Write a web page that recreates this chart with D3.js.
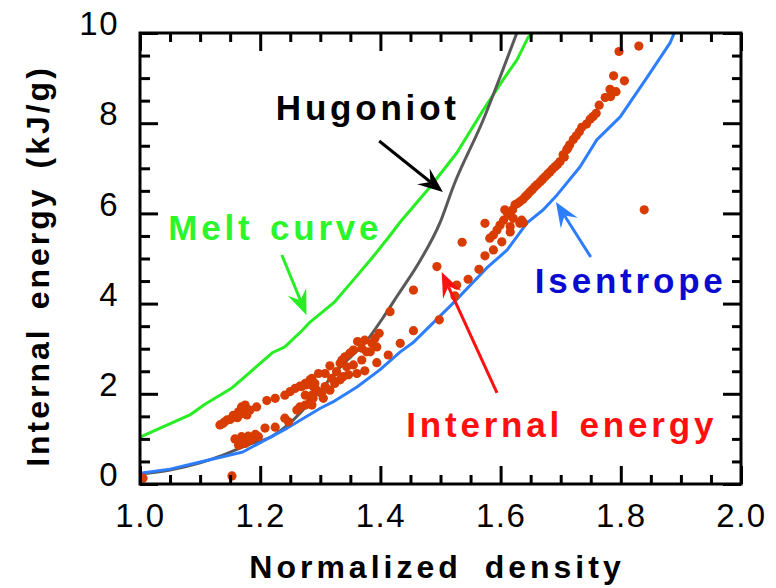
<!DOCTYPE html>
<html><head><meta charset="utf-8">
<script src="https://cdn.jsdelivr.net/npm/d3@7"></script>
<style>body{margin:0;background:#fff} svg{display:block}</style>
</head><body><svg id="c" width="776" height="588"></svg>
<script>
// ---------- data ----------
const xMajorTicks = [1.0, 1.2, 1.4, 1.6, 1.8, 2.0];
const yMajorTicks = [0, 2, 4, 6, 8, 10];

const isentropeDensity = [1.000,1.050,1.095,1.171,1.245,1.300,1.321,1.361,1.399,1.433,1.454,1.521,1.577,1.611,1.644,1.671,1.694,1.732,1.760,1.799,1.844,1.882,1.889];
const isentropeEnergy  = [0.24,0.33,0.47,0.71,1.24,1.68,1.82,2.15,2.53,2.93,3.13,4.01,4.79,5.19,5.79,6.08,6.41,7.03,7.63,8.14,9.02,9.78,10.0];

const hugoniotDensity = [1.000,1.050,1.100,1.138,1.180,1.220,1.246,1.286,1.333,1.378,1.404,1.429,1.466,1.499,1.522,1.571,1.599,1.627];
const hugoniotEnergy  = [0.22,0.31,0.47,0.64,0.87,1.06,1.31,1.86,2.59,3.19,3.68,4.19,4.95,5.79,6.62,8.07,9.02,10.0];

const meltDensity = [1.000,1.042,1.083,1.108,1.153,1.180,1.220,1.241,1.271,1.283,1.324,1.358,1.386,1.413,1.433,1.483,1.527,1.571,1.604,1.627,1.646,1.654];
const meltEnergy  = [1.04,1.29,1.53,1.77,2.13,2.44,2.91,3.04,3.42,3.59,4.04,4.57,5.01,5.46,5.81,6.59,7.34,8.29,8.96,9.40,9.91,10.0];

const internalEnergyPoints = [
 [1.005,0.13],[1.153,0.18],
 [1.133,1.31],[1.141,1.38],[1.150,1.43],[1.158,1.49],[1.164,1.60],[1.169,1.71],[1.175,1.75],[1.178,1.53],[1.183,1.64],[1.194,1.71],[1.211,1.85],[1.225,1.90],[1.241,1.97],[1.250,2.05],[1.258,2.12],[1.266,2.17],[1.275,2.23],[1.283,2.31],
 [1.145,1.42],[1.155,1.52],[1.170,1.56],[1.138,1.34],[1.162,1.47],[1.172,1.65],
 [1.161,0.98],[1.164,0.86],[1.169,1.05],[1.175,0.90],[1.180,1.06],[1.189,1.05],[1.197,1.05],[1.208,1.24],[1.225,1.26],[1.241,1.46],[1.247,1.38],[1.261,1.64],[1.266,1.71],[1.275,1.75],[1.283,1.82],[1.288,2.16],[1.286,1.97],
 [1.170,0.95],[1.185,0.98],[1.158,1.00],[1.192,1.10],[1.166,0.92],[1.178,1.02],
 [1.416,3.82],[1.398,3.34],[1.391,3.23],[1.362,3.16],[1.374,3.19],[1.386,3.12],[1.394,3.04],[1.377,2.93],[1.369,3.01],[1.355,2.97],[1.349,2.90],[1.341,2.82],[1.336,2.75],[1.383,2.93],[1.413,2.86],[1.369,2.75],[1.394,2.69],[1.355,2.64],[1.344,2.60],[1.333,2.68],[1.316,2.62],[1.327,2.49],[1.374,2.51],[1.361,2.45],[1.347,2.42],[1.338,2.38],[1.308,2.45],[1.297,2.45],[1.319,2.34],[1.286,2.34],[1.277,2.20],[1.291,2.23],[1.308,2.16],[1.324,2.23],[1.333,2.31],[1.269,2.16],[1.294,2.08],[1.316,2.08],[1.275,1.97],[1.288,1.90],[1.302,2.01],[1.305,1.90],[1.286,1.75],[1.433,3.12],
 [1.494,4.82],[1.455,4.30],[1.498,3.64],[1.455,3.40],[1.527,4.41],[1.524,4.17],[1.546,4.54],[1.536,5.36],[1.564,4.76],[1.574,5.06],[1.588,5.19],
 [1.699,7.15],[1.691,7.04],[1.682,6.92],[1.674,6.81],[1.666,6.70],[1.657,6.59],[1.649,6.48],[1.641,6.37],[1.632,6.26],[1.624,6.19],[1.620,6.08],[1.607,6.08],[1.613,5.96],[1.605,5.85],[1.621,5.89],[1.632,5.78],[1.599,5.74],[1.594,5.63],[1.616,5.71],[1.616,5.59],[1.588,5.52],[1.582,5.45],[1.602,5.37],[1.574,5.78],
 [1.695,7.09],[1.686,6.98],[1.678,6.87],[1.670,6.76],[1.661,6.64],[1.653,6.53],[1.645,6.42],[1.637,6.31],[1.628,6.22],[1.611,6.02],[1.706,7.25],[1.712,7.45],
 [1.797,9.59],[1.830,9.71],[1.788,9.05],[1.806,8.94],[1.782,8.75],[1.792,8.70],[1.774,8.57],[1.783,8.59],[1.764,8.40],[1.759,8.22],[1.749,8.09],[1.743,7.98],[1.735,7.91],[1.731,7.81],[1.721,7.64],[1.715,7.52],[1.710,7.41],[1.704,7.30],[1.839,6.08],[1.635,5.85],[1.638,5.79],
 [1.726,7.72],[1.754,8.15]
];

// annotations: label, text anchor point (left, baseline), arrow from -> to (data coords)
const annotationLabels = ["Hugoniot", "Melt curve", "Isentrope", "Internal energy"];
const annotationText   = [[1.226,8.07],[1.047,5.41],[1.657,4.235],[1.443,1.042]];
const annotationArrows = [[1.398,7.605,1.504,6.474],[1.236,5.078,1.277,3.747],[1.750,5.033,1.692,6.253],[1.594,2.018,1.502,4.701]];

// ---------- drawing ----------
const C = {melt:"#26ee22", meltText:"#2bf52b", hug:"#595959", isen:"#2d7dff", isenText:"#0a0ad0", dot:"#d83c00", red:"#ff1010"};
const annotationColors = ["#000", C.meltText, C.isenText, C.red];
const arrowColors = ["#000", C.melt, C.isen, C.red];

const svg = d3.select("#c");
const FONT = "'Liberation Sans', Arial, Helvetica, sans-serif";
const x = d3.scaleLinear().domain([1,2]).range([140,741]);
const y = d3.scaleLinear().domain([0,10]).range([484,33]);

svg.append("defs").append("clipPath").attr("id","clip")
  .append("rect").attr("x",140).attr("y",33).attr("width",601).attr("height",451);

const plot = svg.append("g").attr("clip-path","url(#clip)");
function curve(xs, ys, col, smooth){
  const line = d3.line().x(d=>x(d[0])).y(d=>y(d[1]));
  if (smooth) line.curve(d3.curveMonotoneX);
  plot.append("path").datum(xs.map((v,i)=>[v,ys[i]]))
    .attr("d", line).attr("fill","none").attr("stroke",col)
    .attr("stroke-width",3).attr("stroke-linejoin","round");
}
curve(meltDensity, meltEnergy, C.melt, false);
curve(hugoniotDensity, hugoniotEnergy, C.hug, true);
curve(isentropeDensity, isentropeEnergy, C.isen, false);

plot.selectAll("circle.d").data(internalEnergyPoints).join("circle")
  .attr("cx",d=>x(d[0])).attr("cy",d=>y(d[1])).attr("r",4.6).attr("fill",C.dot);

// axes (ticks inward)
const minorX = d3.range(1.0, 2.0001, 0.05).map(v=>+v.toFixed(2)).filter(v=>Math.abs(v*5-Math.round(v*5))>1e-6);
const minorY = d3.range(0, 10.0001, 0.5).filter(v=>v%2!==0);
function styleAxis(g){
  g.select(".domain").remove();
  g.selectAll("line").attr("stroke","#000").attr("stroke-width",3);
  g.selectAll("text").attr("font-family",FONT).attr("font-size",33).attr("fill","#000").attr("letter-spacing",1.5);
}
svg.append("g").attr("transform","translate(0,484)")
  .call(d3.axisBottom(x).tickValues(xMajorTicks).tickSize(-18).tickPadding(20).tickFormat(d3.format(".1f")))
  .call(styleAxis);
svg.append("g").attr("transform","translate(0,484)")
  .call(d3.axisBottom(x).tickValues(minorX).tickSize(-9).tickFormat("")).call(styleAxis);
svg.append("g").attr("transform","translate(0,33)")
  .call(d3.axisTop(x).tickValues(xMajorTicks).tickSize(-18).tickFormat("")).call(styleAxis);
svg.append("g").attr("transform","translate(0,33)")
  .call(d3.axisTop(x).tickValues(minorX).tickSize(-9).tickFormat("")).call(styleAxis);
svg.append("g").attr("transform","translate(140,0)")
  .call(d3.axisLeft(y).tickValues(yMajorTicks).tickSize(-18).tickPadding(21).tickFormat(d3.format("d")))
  .call(styleAxis).call(g=>g.selectAll("text").attr("dy","0.05em"));
svg.append("g").attr("transform","translate(140,0)")
  .call(d3.axisLeft(y).tickValues(minorY).tickSize(-10).tickFormat("")).call(styleAxis);
svg.append("g").attr("transform","translate(741,0)")
  .call(d3.axisRight(y).tickValues(yMajorTicks).tickSize(-18).tickFormat("")).call(styleAxis);
svg.append("g").attr("transform","translate(741,0)")
  .call(d3.axisRight(y).tickValues(minorY).tickSize(-9).tickFormat("")).call(styleAxis);

svg.append("rect").attr("x",140).attr("y",33).attr("width",601).attr("height",451)
  .attr("fill","none").attr("stroke","#000").attr("stroke-width",3);

// axis titles
svg.append("text").attr("x",437).attr("y",578).attr("text-anchor","middle")
  .attr("font-family",FONT).attr("font-weight","bold").attr("font-size",32)
  .attr("letter-spacing",4).attr("word-spacing",10).text("Normalized density");
svg.append("text").attr("transform","translate(49,266) rotate(-90)").attr("text-anchor","middle")
  .attr("font-family",FONT).attr("font-weight","bold").attr("font-size",32)
  .attr("letter-spacing",3).attr("word-spacing",6).text("Internal energy (kJ/g)");

// annotations
annotationLabels.forEach((lab,i)=>{
  svg.append("text").attr("x",x(annotationText[i][0])).attr("y",y(annotationText[i][1]))
    .attr("font-family",FONT).attr("font-weight","bold").attr("font-size",35)
    .attr("letter-spacing",3.8).attr("word-spacing",3).attr("fill",annotationColors[i]).text(lab);
  const a = annotationArrows[i];
  const x0=x(a[0]), y0=y(a[1]), x1=x(a[2]), y1=y(a[3]);
  const L=Math.hypot(x1-x0,y1-y0), ux=(x1-x0)/L, uy=(y1-y0)/L, px=-uy, py=ux;
  const hl=25, hw=10, nd=16;
  svg.append("line").attr("x1",x0).attr("y1",y0).attr("x2",x1-ux*nd).attr("y2",y1-uy*nd)
    .attr("stroke",arrowColors[i]).attr("stroke-width",3);
  const pts=[[x1,y1],[x1-ux*hl+px*hw,y1-uy*hl+py*hw],[x1-ux*nd,y1-uy*nd],[x1-ux*hl-px*hw,y1-uy*hl-py*hw]];
  svg.append("path").attr("d","M"+pts.map(p=>p.join(",")).join("L")+"Z").attr("fill",arrowColors[i]);
});
</script></body></html>
